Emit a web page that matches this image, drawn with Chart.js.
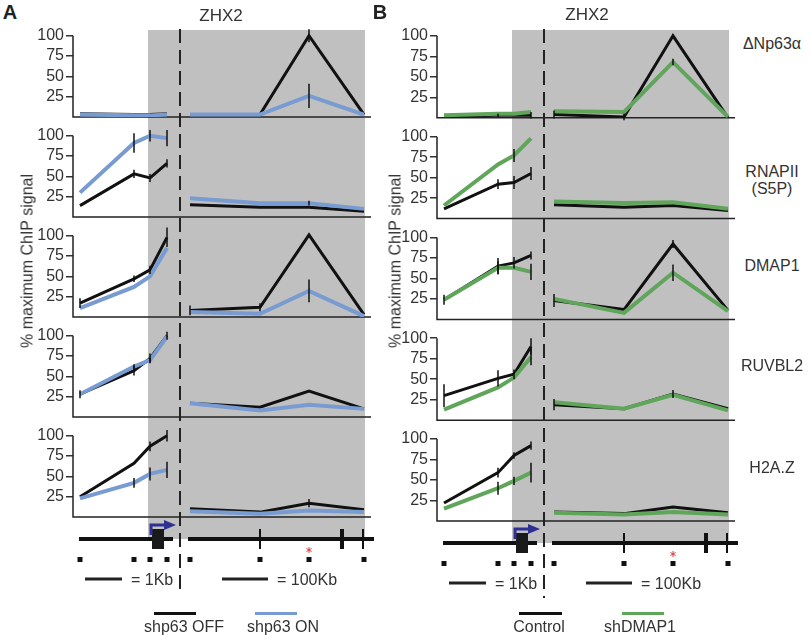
<!DOCTYPE html>
<html>
<head>
<meta charset="utf-8">
<title>ZHX2 ChIP</title>
<script src="https://cdn.jsdelivr.net/npm/chart.js@4.4.1/dist/chart.umd.min.js"></script>
<style>
  body { margin: 0; background: #fff; }
  #fig { position: relative; width: 811px; height: 635px; overflow: hidden;
         font-family: "Liberation Sans", Arial, sans-serif; color: #333; }
  #fig canvas { position: absolute; top: 0; }
  .lbl { position: absolute; white-space: pre; font-size: 16px; line-height: 17px;
         transform: translate(-50%, -50%); text-align: center; }
  .left { transform: translate(0, -50%); }
  .panel { font-weight: bold; font-size: 20px; color: #222; }
  .title { font-size: 17px; }
  .ylab { transform: translate(-50%, -50%) rotate(-90deg); }
  .key { position: absolute; height: 3px; }
</style>
</head>
<body>
<div id="fig">
  <canvas id="chartA" width="345" height="635" style="left:33px"></canvas>
  <canvas id="chartB" width="345" height="635" style="left:397px"></canvas>
</div>
<script>
// amplicon positions along the ZHX2 map (map units, left 1Kb part + right 100Kb part)
const ampliconPos = [7, 61, 77, 94, 117, 187, 236, 291];
const histLabels = ['ΔNp63α', 'RNAPII\n(S5P)', 'DMAP1', 'RUVBL2', 'H2A.Z'];
const yTicks = [25, 50, 75, 100];
const geneName = 'ZHX2';

// panel A: % maximum ChIP signal, one row per antibody
const shp63Off = [
  [4, 3, 3, 4, 3, 3, 100, 3],
  [14, 53, 48, 66, 15, 12, 12, 7],
  [17, 47, 58, 98, 8, 12, 101, 3],
  [28, 57, 72, 100, 17, 12, 32, 10],
  [25, 66, 87, 100, 10, 6, 17, 9]
];
const shp63OffErr = [
  [0, 0, 0, 0, 0, 0, 8, 0],
  [0, 5, 5, 5, 0, 0, 0, 0],
  [6, 4, 5, 12, 6, 5, 0, 0],
  [5, 6, 6, 5, 0, 0, 0, 0],
  [0, 0, 6, 7, 0, 0, 5, 0]
];
const shp63On = [
  [3, 2, 2, 3, 3, 3, 26, 3],
  [30, 91, 100, 97, 23, 17, 17, 10],
  [11, 37, 50, 85, 6, 4, 32, 1],
  [28, 62, 70, 99, 17, 8, 15, 10],
  [23, 42, 53, 58, 7, 4, 8, 6]
];
const shp63OnErr = [
  [0, 0, 0, 0, 0, 0, 15, 0],
  [0, 12, 7, 10, 0, 0, 3, 0],
  [0, 0, 0, 0, 0, 0, 14, 0],
  [0, 3, 3, 0, 0, 0, 0, 0],
  [0, 6, 8, 10, 0, 0, 0, 0]
];

// panel B
const control = [
  [2, 3, 3, 3, 4, 1, 100, 0],
  [12, 42, 44, 55, 17, 14, 16, 10],
  [24, 65, 69, 78, 23, 12, 92, 11],
  [30, 51, 56, 90, 19, 14, 32, 14],
  [22, 59, 80, 92, 11, 9, 17, 10]
];
const controlErr = [
  [0, 2, 0, 4, 5, 4, 0, 0],
  [0, 6, 8, 8, 0, 0, 0, 0],
  [6, 10, 7, 5, 8, 0, 5, 0],
  [14, 10, 6, 10, 7, 0, 5, 0],
  [0, 6, 4, 5, 0, 0, 0, 0]
];
const shDMAP1 = [
  [3, 5, 5, 7, 8, 7, 68, 1],
  [16, 66, 77, 98, 21, 19, 20, 12],
  [24, 63, 63, 58, 25, 8, 57, 10],
  [13, 40, 52, 77, 22, 14, 31, 12],
  [15, 40, 49, 59, 10, 8, 11, 8]
];
const shDMAP1Err = [
  [0, 0, 0, 0, 0, 0, 4, 0],
  [0, 0, 8, 0, 0, 0, 0, 0],
  [0, 8, 0, 10, 0, 0, 10, 0],
  [0, 0, 0, 10, 0, 0, 0, 0],
  [0, 8, 5, 12, 0, 0, 0, 0]
];

// gene map features, same units as ampliconPos
const shadedRegion = [75, 292];
const tssPos = 107;
const geneSegments = [[6, 100], [115, 301]];
const exonBox = [79, 91];
const arrowSpan = [78, 103];
const thinTicks = [187, 290];
const thickTicks = [269];
const starAmplicon = 6;
const scaleBars = [[12, 49, '= 1Kb'], [149, 195, '= 100Kb']];

const fig = document.getElementById('fig');
function addLabel(text, x, y, cls) {
  const d = document.createElement('div');
  d.className = 'lbl' + (cls ? ' ' + cls : '');
  d.textContent = text;
  d.style.left = x + 'px';
  d.style.top = y + 'px';
  fig.appendChild(d);
  return d;
}
function addKey(color, x, y, w) {
  const d = document.createElement('div');
  d.className = 'key';
  d.style.background = color;
  d.style.left = x + 'px';
  d.style.top = y + 'px';
  d.style.width = w + 'px';
  fig.appendChild(d);
}

const mapPlugin = {
  id: 'geneMap',
  beforeDatasetsDraw(chart) {
    const { ctx, chartArea: a } = chart;
    const px = v => chart.scales.x.getPixelForValue(v);
    const lineY = a.bottom + 22;
    ctx.save();
    // shaded window
    ctx.fillStyle = '#c0c0c0';
    ctx.fillRect(px(shadedRegion[0]), a.top + 13, px(shadedRegion[1]) - px(shadedRegion[0]), lineY - a.top - 13);
    // row axes
    ctx.strokeStyle = '#222';
    ctx.lineWidth = 1.5;
    histLabels.forEach((_, r) => {
      const s = chart.scales['y' + r];
      ctx.beginPath();
      ctx.moveTo(a.left, s.getPixelForValue(100));
      ctx.lineTo(a.left, s.getPixelForValue(0));
      ctx.lineTo(a.right, s.getPixelForValue(0));
      ctx.stroke();
    });
    // TSS dashed line
    ctx.setLineDash([14, 7]);
    ctx.lineWidth = 2;
    ctx.beginPath();
    ctx.moveTo(px(tssPos), a.top + 12);
    ctx.lineTo(px(tssPos), lineY + 55);
    ctx.stroke();
    ctx.setLineDash([]);
    // gene line
    ctx.strokeStyle = '#111';
    ctx.lineWidth = 4;
    geneSegments.forEach(([s, e]) => {
      ctx.beginPath(); ctx.moveTo(px(s), lineY); ctx.lineTo(px(e), lineY); ctx.stroke();
    });
    ctx.fillStyle = '#1a1a1a';
    ctx.fillRect(px(exonBox[0]), lineY - 10, px(exonBox[1]) - px(exonBox[0]), 20);
    ctx.lineWidth = 2;
    thinTicks.forEach(t => { ctx.beginPath(); ctx.moveTo(px(t), lineY - 10); ctx.lineTo(px(t), lineY + 10); ctx.stroke(); });
    ctx.lineWidth = 4;
    thickTicks.forEach(t => { ctx.beginPath(); ctx.moveTo(px(t), lineY - 10); ctx.lineTo(px(t), lineY + 10); ctx.stroke(); });
    // TSS arrow
    const ax0 = px(arrowSpan[0]), ax1 = px(arrowSpan[1]), ay = lineY - 14;
    ctx.strokeStyle = '#2e3192';
    ctx.fillStyle = '#2e3192';
    ctx.lineWidth = 3;
    ctx.beginPath(); ctx.moveTo(ax0, lineY - 4); ctx.lineTo(ax0, ay); ctx.lineTo(ax1 - 10, ay); ctx.stroke();
    ctx.beginPath(); ctx.moveTo(ax1 - 12, ay - 5); ctx.lineTo(ax1, ay); ctx.lineTo(ax1 - 12, ay + 5); ctx.closePath(); ctx.fill();
    // amplicons
    ctx.fillStyle = '#111';
    ampliconPos.forEach(p => ctx.fillRect(px(p) - 2.5, lineY + 18, 5, 5));
    // asterisk
    const sx = px(ampliconPos[starAmplicon]), sy = lineY + 11;
    ctx.strokeStyle = '#e23a3a';
    ctx.lineWidth = 1;
    for (let k = 0; k < 3; k++) {
      const ang = Math.PI / 2 + k * Math.PI / 3;
      ctx.beginPath();
      ctx.moveTo(sx - 3 * Math.cos(ang), sy - 3 * Math.sin(ang));
      ctx.lineTo(sx + 3 * Math.cos(ang), sy + 3 * Math.sin(ang));
      ctx.stroke();
    }
    // scale bars
    ctx.strokeStyle = '#222';
    ctx.lineWidth = 3;
    scaleBars.forEach(([s, e]) => {
      ctx.beginPath(); ctx.moveTo(px(s), lineY + 40); ctx.lineTo(px(e), lineY + 40); ctx.stroke();
    });
    ctx.restore();
  },
  afterDatasetsDraw(chart) {
    const ctx = chart.ctx;
    ctx.save();
    ctx.strokeStyle = '#111';
    ctx.lineWidth = 1.5;
    chart.data.datasets.forEach((ds, i) => {
      const meta = chart.getDatasetMeta(i);
      const s = chart.scales[ds.yAxisID];
      ds.err.forEach((e, j) => {
        if (!e) return;
        const pt = meta.data[j];
        const v = ds.data[j].y;
        ctx.beginPath();
        ctx.moveTo(pt.x, s.getPixelForValue(v + e));
        ctx.lineTo(pt.x, s.getPixelForValue(v - e));
        ctx.stroke();
      });
    });
    ctx.restore();
  }
};

function buildPanel(cfg) {
  const datasets = [];
  histLabels.forEach((_, r) => {
    datasets.push({
      label: cfg.names[1],
      data: cfg.treated[r].map((v, i) => ({ x: ampliconPos[i], y: v })),
      err: cfg.treatedErr[r],
      yAxisID: 'y' + r,
      borderColor: cfg.color,
      borderWidth: 4
    });
    datasets.push({
      label: cfg.names[0],
      data: cfg.base[r].map((v, i) => ({ x: ampliconPos[i], y: v })),
      err: cfg.baseErr[r],
      yAxisID: 'y' + r,
      borderColor: '#111',
      borderWidth: 3
    });
  });

  const scales = { x: { type: 'linear', min: 0, max: 298, display: false } };
  histLabels.forEach((_, r) => {
    scales['y' + r] = {
      type: 'linear',
      position: 'left',
      stack: 'rows',
      stackWeight: 1,
      weight: histLabels.length - r,
      min: 0,
      max: 123,
      afterBuildTicks: s => { s.ticks = yTicks.map(v => ({ value: v })); },
      afterFit: s => { s.width = 40; },
      border: { display: false },
      grid: { display: true, drawOnChartArea: false, drawTicks: true, tickLength: 7, color: '#333', lineWidth: 1.5 },
      ticks: { color: '#333', padding: 2, autoSkip: false, font: { family: '"Liberation Sans", Arial, sans-serif', size: 16 } }
    };
  });

  const chart = new Chart(document.getElementById(cfg.id), {
    type: 'line',
    data: { datasets },
    options: {
      responsive: false,
      animation: false,
      layout: { padding: { top: cfg.padTop, bottom: cfg.padBottom, left: 0, right: 7 } },
      elements: {
        point: { radius: 0, hoverRadius: 0 },
        line: { tension: 0, borderJoinStyle: 'miter', borderCapStyle: 'butt', fill: false }
      },
      datasets: {
        line: {
          segment: { borderColor: c => (c.p0DataIndex === 3 ? 'rgba(0,0,0,0)' : undefined) }
        }
      },
      plugins: { legend: { display: false }, tooltip: { enabled: false } },
      scales
    },
    plugins: [mapPlugin]
  });

  // scale bar texts under the gene map
  const lineY = chart.chartArea.bottom + 22;
  scaleBars.forEach(([s, e, txt]) => {
    addLabel(txt, cfg.left + chart.scales.x.getPixelForValue(e) + 9, lineY + 40, 'left');
  });
  return chart;
}

buildPanel({ id: 'chartA', left: 33, padTop: 17, padBottom: 118, names: ['shp63 OFF', 'shp63 ON'],
  color: '#789bd2', base: shp63Off, baseErr: shp63OffErr, treated: shp63On, treatedErr: shp63OnErr });
buildPanel({ id: 'chartB', left: 397, padTop: 17, padBottom: 114, names: ['Control', 'shDMAP1'],
  color: '#5fa55a', base: control, baseErr: controlErr, treated: shDMAP1, treatedErr: shDMAP1Err });

// panel letters, titles, axis labels
addLabel('A', 10, 12, 'panel');
addLabel('B', 380, 12, 'panel');
addLabel(geneName, 221, 15, 'title');
addLabel(geneName, 587, 14, 'title');
addLabel('% maximum ChIP signal', 27, 261, 'ylab');
addLabel('% maximum ChIP signal', 395, 261, 'ylab');
const rowLabelY = [43, 180, 265, 365, 467];
histLabels.forEach((t, r) => addLabel(t, 772, rowLabelY[r]));

// legends
addKey('#111', 154, 612, 42);
addKey('#789bd2', 255, 612, 42);
addLabel('shp63 OFF', 184, 626);
addLabel('shp63 ON', 283, 626);
addKey('#111', 519, 612, 43);
addKey('#5fa55a', 622, 612, 42);
addLabel('Control', 539, 626);
addLabel('shDMAP1', 640, 626);
</script>
</body>
</html>
